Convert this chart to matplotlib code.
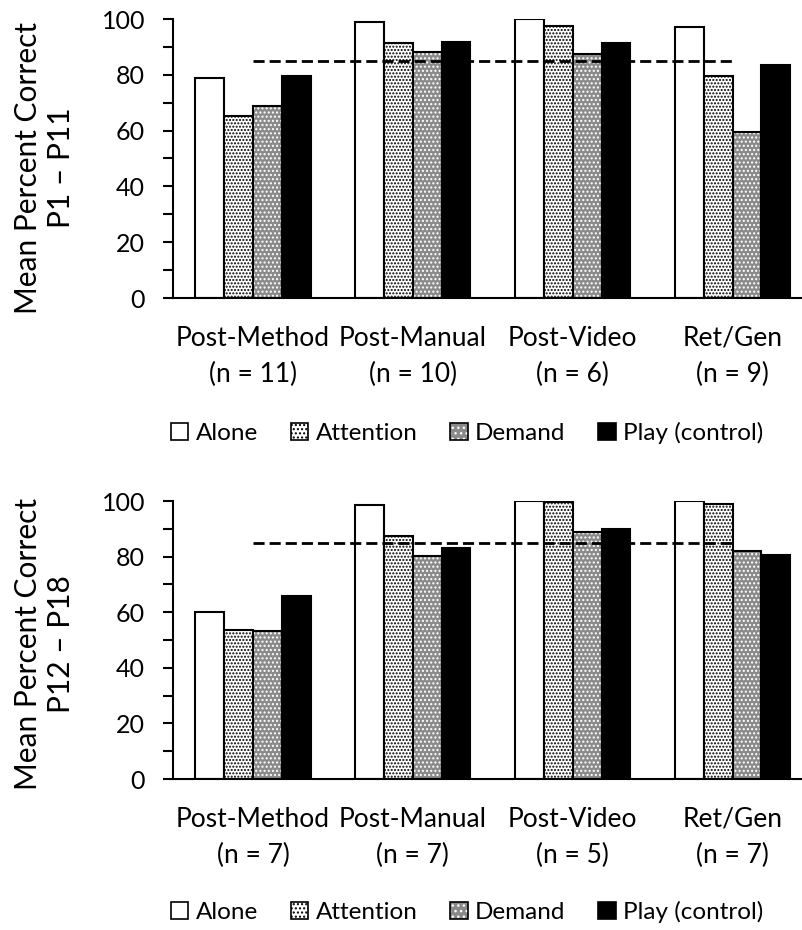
import matplotlib
matplotlib.use("Agg")
import matplotlib.pyplot as plt
import numpy as np
from matplotlib.patches import Patch
from matplotlib.legend_handler import HandlerTuple

plt.rcParams["font.family"] = ["Lato", "DejaVu Sans"]
plt.rcParams["hatch.linewidth"] = 1.0

PHASES = ["Post-Method", "Post-Manual", "Post-Video", "Ret/Gen"]
CONDITIONS = ["Alone", "Attention", "Demand", "Play (control)"]
CRITERION = 85

# P1 - P11
N_TOP = [11, 10, 6, 9]
TOP_ALONE = [79, 98.8, 100, 97]
TOP_ATTENTION = [65.3, 91.3, 97.6, 79.6]
TOP_DEMAND = [68.9, 88.3, 87.5, 59.4]
TOP_PLAY = [79.6, 91.6, 91.3, 83.4]

# P12 - P18
N_BOTTOM = [7, 7, 5, 7]
BOTTOM_ALONE = [60.2, 98.6, 100, 100]
BOTTOM_ATTENTION = [53.6, 87.5, 99.8, 99.0]
BOTTOM_DEMAND = [53.2, 80.3, 88.8, 82.1]
BOTTOM_PLAY = [65.9, 83.1, 89.9, 80.7]

DEMAND_GRAY = "#8a8a8a"
W = 0.18
LW = 1.5


def draw_panel(ax, alone, attention, demand, play, ns):
    x = np.arange(len(PHASES))
    offs = np.array([-1.5, -0.5, 0.5, 1.5]) * W
    ax.bar(x + offs[0], alone, W, color="white", edgecolor="black", lw=LW, zorder=2)
    ax.bar(x + offs[1], attention, W, color="white", edgecolor="black", hatch=".....",
           lw=LW, zorder=2)
    # demand: gray fill, white dots, then black outline on top
    ax.bar(x + offs[2], demand, W, color=DEMAND_GRAY, lw=0, zorder=2)
    ax.bar(x + offs[2], demand, W, fill=False, edgecolor="white", hatch="....", lw=0, zorder=2)
    ax.bar(x + offs[2], demand, W, fill=False, edgecolor="black", lw=LW, zorder=2)
    ax.bar(x + offs[3], play, W, color="black", edgecolor="black", lw=LW, zorder=2)
    ax.hlines(CRITERION, 0, len(PHASES) - 1, colors="black", lw=2,
              linestyles=(0, (4, 1.8)), zorder=3)

    ax.set_xlim(-0.5, 3.44)
    ax.set_ylim(0, 100)
    ax.set_xticks(x)
    ax.set_xticklabels([f"{p}\n(n = {n})" for p, n in zip(PHASES, ns)],
                       fontsize=19, linespacing=1.55)
    ax.tick_params(axis="x", length=0, pad=20)
    ax.set_yticks(range(0, 101, 20))
    ax.set_yticks(range(0, 101, 10), minor=True)
    ax.tick_params(axis="y", which="both", length=7, width=LW, direction="out")
    ax.tick_params(axis="y", labelsize=18, pad=13)
    for s in ("top", "right"):
        ax.spines[s].set_visible(False)
    for s in ("left", "bottom"):
        ax.spines[s].set_linewidth(LW)


def add_legend(fig, y):
    demand_handle = (Patch(facecolor=DEMAND_GRAY, lw=0),
                     Patch(fill=False, edgecolor="white", hatch="...", lw=0),
                     Patch(fill=False, edgecolor="black", lw=1.2))
    handles = [Patch(facecolor="white", edgecolor="black", lw=1.2),
               Patch(facecolor="white", edgecolor="black", hatch="....", lw=1.2),
               demand_handle,
               Patch(facecolor="black", edgecolor="black", lw=1.2)]
    fig.legend(handles, CONDITIONS, loc="center", bbox_to_anchor=(0.5816, y), ncol=4,
               frameon=False, fontsize=17.5, handlelength=0.72, handleheight=0.72,
               handletextpad=0.3, columnspacing=1.35, borderaxespad=0,
               handler_map={tuple: HandlerTuple(ndivide=1, pad=0)})


fig = plt.figure(figsize=(8.03, 9.30), dpi=100)
left = 173 / 803
width = 1 - left
ax1 = fig.add_axes([left, 1 - 298 / 930, width, 279 / 930])
ax2 = fig.add_axes([left, 1 - 779 / 930, width, 278 / 930])

draw_panel(ax1, TOP_ALONE, TOP_ATTENTION, TOP_DEMAND, TOP_PLAY, N_TOP)
draw_panel(ax2, BOTTOM_ALONE, BOTTOM_ATTENTION, BOTTOM_DEMAND, BOTTOM_PLAY, N_BOTTOM)

fig.text(0.0554, 1 - 168 / 930, "Mean Percent Correct\nP1 \u2013 P11", rotation=90,
         ha="center", va="center", fontsize=21.5, linespacing=1.25, multialignment="center")
fig.text(0.0554, 1 - 644 / 930, "Mean Percent Correct\nP12 \u2013 P18", rotation=90,
         ha="center", va="center", fontsize=21.5, linespacing=1.25, multialignment="center")

add_legend(fig, 1 - 433 / 930)
add_legend(fig, 1 - 912 / 930)

fig.savefig("out.png", dpi=100)
